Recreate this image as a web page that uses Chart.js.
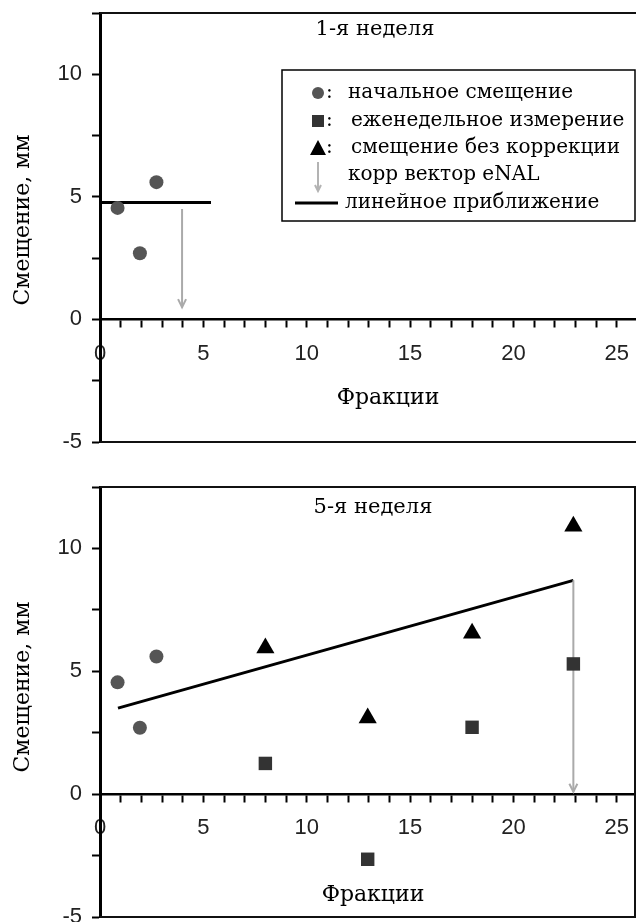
<!DOCTYPE html>
<html>
<head>
<meta charset="utf-8">
<script src="https://cdn.jsdelivr.net/npm/chart.js@4.4.1/dist/chart.umd.min.js"></script>
<style>
  html, body { margin: 0; padding: 0; background: #fff; }
  #wrap { position: relative; width: 636px; height: 922px; overflow: hidden; }
  canvas { position: absolute; left: 0; }
</style>
</head>
<body>
<div id="wrap">
  <canvas id="week1" width="636" height="461" style="top:0"></canvas>
  <canvas id="week5" width="636" height="461" style="top:461px"></canvas>
</div>
<script>
// values
const initialX = [0.85, 1.93, 2.73];
const initialY = [4.55, 2.7, 5.6];

const weeklyX = [8, 12.95, 18, 22.9];
const weeklyMeasured = [1.25, -2.65, 2.72, 5.3];
const uncorrectedShift = [5.95, 3.1, 6.55, 10.9];

const fitWeek1X = [0, 5.37];
const fitWeek1Y = [4.77, 4.77];
const fitWeek5X = [0.87, 22.9];
const fitWeek5Y = [3.5, 8.7];

const vectorWeek1X = [3.97, 3.97];
const vectorWeek1Y = [4.5, 0.5];
const vectorWeek5X = [22.9, 22.9];
const vectorWeek5Y = [8.7, 0.1];

const xTickLabels = [0, 5, 10, 15, 20, 25];
const yTickLabels = [-5, 0, 5, 10];

const seriesLabels = ['начальное смещение', 'еженедельное измерение', 'смещение без коррекции', 'корр вектор eNAL', 'линейное приближение'];

const SERIF = '"DejaVu Serif", "Liberation Serif", serif';
const SANS = '"Liberation Sans", Arial, sans-serif';

function pts(xs, ys) {
    return xs.map((x, i) => ({ x: x, y: ys[i] }));
}

function drawMarker(ctx, kind, x, y) {
    ctx.save();
    if (kind === 'circle') {
        ctx.fillStyle = '#555';
        ctx.beginPath();
        ctx.arc(x, y, 6, 0, Math.PI * 2);
        ctx.fill();
    } else if (kind === 'rect') {
        ctx.fillStyle = '#333';
        ctx.fillRect(x - 6, y - 6, 12, 12);
    } else if (kind === 'triangle') {
        ctx.fillStyle = '#000';
        ctx.beginPath();
        ctx.moveTo(x, y - 8);
        ctx.lineTo(x + 8, y + 7);
        ctx.lineTo(x - 8, y + 7);
        ctx.closePath();
        ctx.fill();
    } else if (kind === 'arrow') {
        ctx.strokeStyle = '#b3b3b3';
        ctx.lineWidth = 2;
        ctx.beginPath();
        ctx.moveTo(x, y - 13);
        ctx.lineTo(x, y + 16);
        ctx.moveTo(x - 3, y + 10);
        ctx.lineTo(x, y + 16);
        ctx.lineTo(x + 3, y + 10);
        ctx.stroke();
    } else if (kind === 'line') {
        ctx.strokeStyle = '#000';
        ctx.lineWidth = 3;
        ctx.beginPath();
        ctx.moveTo(x - 23, y);
        ctx.lineTo(x + 20, y);
        ctx.stroke();
    }
    ctx.restore();
}

// frame, arrow heads, texts and legend
const decor = {
    id: 'decor',
    afterDatasetsDraw(chart, args, opts) {
        const ctx = chart.ctx;
        chart.data.datasets.forEach((ds, i) => {
            if (ds.kind !== 'arrow') return;
            const els = chart.getDatasetMeta(i).data;
            const tip = els[els.length - 1];
            ctx.save();
            ctx.strokeStyle = '#aaa';
            ctx.lineWidth = 2;
            ctx.beginPath();
            ctx.moveTo(tip.x - 4, tip.y - 8);
            ctx.lineTo(tip.x, tip.y);
            ctx.lineTo(tip.x + 4, tip.y - 8);
            ctx.stroke();
            ctx.restore();
        });
    },
    afterDraw(chart, args, opts) {
        const ctx = chart.ctx;
        const a = chart.chartArea;
        ctx.save();
        ctx.strokeStyle = '#111';
        ctx.lineWidth = 2;
        ctx.beginPath();
        ctx.moveTo(a.left, a.top);
        ctx.lineTo(a.right, a.top);
        if (opts.frameRight) {
            ctx.moveTo(a.right - 1, a.top);
            ctx.lineTo(a.right - 1, a.bottom);
        }
        ctx.moveTo(a.right, a.bottom);
        ctx.lineTo(a.left, a.bottom);
        ctx.stroke();

        ctx.fillStyle = '#000';
        ctx.textAlign = 'center';
        ctx.textBaseline = 'middle';
        ctx.font = '21px ' + SERIF;
        ctx.fillText(opts.title, opts.titleAt[0], opts.titleAt[1]);
        ctx.font = '22px ' + SERIF;
        ctx.fillText('Фракции', opts.xTitleAt[0], opts.xTitleAt[1]);
        ctx.save();
        ctx.translate(opts.yTitleAt[0], opts.yTitleAt[1]);
        ctx.rotate(-Math.PI / 2);
        ctx.fillText('Смещение, мм', 0, 0);
        ctx.restore();

        if (opts.legend) {
            const L = opts.legend;
            ctx.lineWidth = 1.5;
            ctx.strokeStyle = '#000';
            ctx.strokeRect(L.left, L.top, L.right - L.left, L.bottom - L.top);
            ctx.font = '20px ' + SERIF;
            ctx.textAlign = 'left';
            chart.data.datasets.forEach((ds, i) => {
                const y = L.rows[i];
                drawMarker(ctx, ds.kind, L.markerX, y);
                let tx = L.textX;
                if (ds.kind === 'circle' || ds.kind === 'rect' || ds.kind === 'triangle') {
                    ctx.fillText(':', L.markerX + 8, y);
                    if (ds.kind !== 'circle') tx += 3;
                }
                if (ds.kind === 'line') tx = L.textX - 3;
                ctx.fillText(ds.label, tx, y);
            });
        }
        ctx.restore();
    }
};

function makeDatasets(fitX, fitY, vecX, vecY, withWeekly) {
    return [
        {
            kind: 'circle', label: seriesLabels[0], data: pts(initialX, initialY),
            pointStyle: 'circle', pointRadius: 7, backgroundColor: '#555', borderWidth: 0
        },
        {
            kind: 'rect', label: seriesLabels[1], data: withWeekly ? pts(weeklyX, weeklyMeasured) : [],
            pointStyle: 'rect', pointRadius: 9.5, backgroundColor: '#333', borderWidth: 0
        },
        {
            kind: 'triangle', label: seriesLabels[2], data: withWeekly ? pts(weeklyX, uncorrectedShift) : [],
            pointStyle: 'triangle', pointRadius: 10.5, backgroundColor: '#000', borderWidth: 0
        },
        {
            kind: 'arrow', label: seriesLabels[3], data: pts(vecX, vecY),
            showLine: true, pointRadius: 0, borderColor: '#aaa', borderWidth: 2
        },
        {
            kind: 'line', label: seriesLabels[4], data: pts(fitX, fitY),
            showLine: true, pointRadius: 0, borderColor: '#000', borderWidth: 3
        }
    ];
}

function makeScales() {
    return {
        x: {
            type: 'linear', min: 0, max: 25.93,
            position: { y: 0 },
            border: { display: true, color: '#000', width: 2.5 },
            grid: { drawOnChartArea: false, drawTicks: true, tickLength: 7, tickWidth: 2, tickColor: '#000' },
            ticks: {
                stepSize: 1, maxTicksLimit: 100, includeBounds: false, autoSkip: false, maxRotation: 0,
                padding: 14, color: '#222', font: { family: SANS, size: 22 },
                callback: (v) => xTickLabels.includes(v) ? String(v) : ''
            },
            afterFit: (s) => { s.height = 0; s.paddingLeft = 0; s.paddingRight = 0; }
        },
        y: {
            type: 'linear', min: -5, max: 12.5,
            border: { display: true, color: '#000', width: 3 },
            grid: { drawOnChartArea: false, drawTicks: true, tickLength: 8, tickWidth: 2, tickColor: '#000' },
            ticks: {
                stepSize: 2.5, maxTicksLimit: 100, autoSkip: false,
                padding: 10, color: '#222', font: { family: SANS, size: 22 },
                callback: (v) => yTickLabels.includes(v) ? String(v) : ''
            },
            afterFit: (s) => { s.width = 100; s.paddingTop = 0; s.paddingBottom = 0; }
        }
    };
}

function makeChart(id, datasets, padding, decorOpts) {
    return new Chart(document.getElementById(id), {
        type: 'scatter',
        data: { datasets: datasets },
        options: {
            responsive: false,
            animation: false,
            events: [],
            layout: { padding: padding, autoPadding: false },
            scales: makeScales(),
            plugins: {
                legend: { display: false },
                tooltip: { enabled: false },
                decor: decorOpts
            }
        },
        plugins: [decor]
    });
}

makeChart('week1',
    makeDatasets(fitWeek1X, fitWeek1Y, vectorWeek1X, vectorWeek1Y, false),
    { left: 0, top: 13, right: 0, bottom: 19 },
    {
        title: '1-я неделя', titleAt: [375, 30],
        xTitleAt: [388, 398], yTitleAt: [23, 220],
        frameRight: false,
        legend: { left: 282, top: 70, right: 635, bottom: 221, markerX: 318, textX: 348, rows: [93, 121, 148, 175, 203] }
    });

makeChart('week5',
    makeDatasets(fitWeek5X, fitWeek5Y, vectorWeek5X, vectorWeek5Y, true),
    { left: 0, top: 26, right: 0, bottom: 5 },
    {
        title: '5-я неделя', titleAt: [373, 47],
        xTitleAt: [373, 434], yTitleAt: [23, 226],
        frameRight: true,
        legend: null
    });
</script>
</body>
</html>
